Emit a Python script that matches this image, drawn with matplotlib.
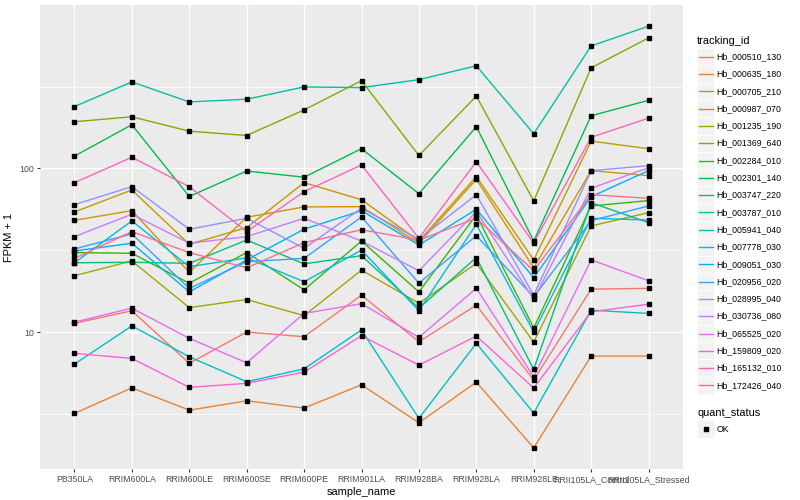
import matplotlib
matplotlib.use("Agg")
import matplotlib.pyplot as plt
from matplotlib.lines import Line2D
from matplotlib.patches import Rectangle
from matplotlib.ticker import FixedLocator, NullFormatter

plt.rcParams["font.family"] = ["Liberation Sans", "DejaVu Sans"]

samples = ["PB350LA", "RRIM600LA", "RRIM600LE", "RRIM600SE", "RRIM600PE",
           "RRIM901LA", "RRIM928BA", "RRIM928LA", "RRIM928LE",
           "RRII105LA_Control", "RRII105LA_Stressed"]

tracking_ids = ["Hb_000510_130", "Hb_000635_180", "Hb_000705_210", "Hb_000987_070",
                "Hb_001235_190", "Hb_001369_640", "Hb_002284_010", "Hb_002301_140",
                "Hb_003747_220", "Hb_003787_010", "Hb_005941_040", "Hb_007778_030",
                "Hb_009051_030", "Hb_020956_020", "Hb_028995_040", "Hb_030736_080",
                "Hb_065525_020", "Hb_159809_020", "Hb_165132_010", "Hb_172426_040"]

# ggplot default hue palette for 20 groups
colors = ["#F8766D", "#EA8331", "#D89000", "#C09B00", "#A3A500", "#7CAE00", "#39B600",
          "#00BB4E", "#00BF7D", "#00C1A3", "#00BFC4", "#00BAE0", "#00B0F6", "#35A2FF",
          "#9590FF", "#C77CFF", "#E76BF3", "#FA62DB", "#FF62BC", "#FF6C91"]

# FPKM + 1 per sample
hb_000510_130 = [11.3, 13.5, 6.44, 10.0, 9.36, 16.8, 8.72, 14.6, 5.09, 18.3, 18.5]
hb_000635_180 = [3.18, 4.56, 3.33, 3.80, 3.43, 4.76, 2.79, 4.94, 1.96, 7.13, 7.13]
hb_000705_210 = [48.2, 55.2, 23.2, 50.3, 58.2, 58.4, 34.9, 85.9, 24.7, 97.0, 90.4]
hb_000987_070 = [54.2, 73.9, 34.4, 43.5, 81.9, 64.4, 36.0, 89.1, 27.6, 147, 132]
hb_001235_190 = [22.1, 27.2, 14.1, 15.8, 12.6, 23.9, 15.0, 26.3, 8.68, 44.5, 53.7]
hb_001369_640 = [193, 207, 169, 159, 228, 344, 120, 277, 63.3, 412, 628]
hb_002284_010 = [30.6, 30.3, 19.9, 30.6, 18.1, 36.0, 17.6, 52.0, 10.6, 59.0, 63.6]
hb_002301_140 = [119, 185, 67.4, 96.5, 88.4, 132, 70.1, 180, 36.0, 210, 261]
hb_003747_220 = [26.5, 26.7, 26.3, 36.5, 26.1, 29.3, 14.0, 28.5, 5.91, 61.8, 46.6]
hb_003787_010 = [239, 338, 255, 265, 315, 312, 349, 424, 163, 561, 741]
hb_005941_040 = [6.37, 10.9, 7.06, 4.97, 5.96, 10.3, 2.97, 8.53, 3.20, 13.6, 13.0]
hb_007778_030 = [26.5, 47.8, 25.1, 28.4, 20.3, 31.7, 13.5, 45.6, 10.0, 49.6, 48.4]
hb_009051_030 = [31.3, 34.9, 17.6, 27.6, 42.5, 55.2, 34.0, 56.3, 21.5, 67.2, 97.0]
hb_020956_020 = [32.2, 39.8, 18.5, 26.9, 28.2, 50.5, 19.9, 38.8, 16.4, 48.0, 59.0]
hb_028995_040 = [60.1, 77.4, 42.5, 49.6, 32.5, 57.1, 36.9, 69.1, 16.8, 97.0, 104]
hb_030736_080 = [38.3, 52.5, 34.9, 38.3, 49.6, 36.0, 23.7, 54.4, 15.9, 75.7, 101]
hb_065525_020 = [11.5, 14.0, 9.15, 6.49, 13.0, 14.9, 9.28, 18.5, 5.33, 27.6, 20.6]
hb_159809_020 = [7.41, 6.90, 4.59, 4.86, 5.69, 9.49, 6.28, 9.45, 4.55, 13.3, 14.8]
hb_165132_010 = [81.9, 117, 77.4, 41.1, 72.1, 105, 37.4, 110, 35.0, 155, 203]
hb_172426_040 = [28.2, 41.1, 30.6, 24.7, 35.2, 42.2, 36.5, 49.6, 23.7, 69.1, 65.7]

series = [hb_000510_130, hb_000635_180, hb_000705_210, hb_000987_070, hb_001235_190,
          hb_001369_640, hb_002284_010, hb_002301_140, hb_003747_220, hb_003787_010,
          hb_005941_040, hb_007778_030, hb_009051_030, hb_020956_020, hb_028995_040,
          hb_030736_080, hb_065525_020, hb_159809_020, hb_165132_010, hb_172426_040]

W, H = 800, 500
fig = plt.figure(figsize=(8, 5), dpi=100)
ax = fig.add_axes([40 / W, 31 / H, 643 / W, 464 / H])
ax.set_facecolor("#EBEBEB")

x = list(range(len(samples)))
for vals, col in zip(series, colors):
    ax.plot(x, vals, color=col, lw=1.0, zorder=3)
for vals in series:
    ax.plot(x, vals, ls="none", marker="s", ms=2.2, color="black", zorder=4)

ax.set_yscale("log")
ax.set_xlim(-0.6, len(samples) - 0.4)
ax.set_ylim(1.455, 998)

ax.yaxis.set_major_locator(FixedLocator([10, 100]))
ax.set_yticklabels(["10", "100"])
ax.yaxis.set_minor_locator(FixedLocator([3.162, 31.62, 316.2]))
ax.yaxis.set_minor_formatter(NullFormatter())
ax.set_xticks(x)
ax.set_xticklabels(samples)

ax.grid(which="major", color="white", lw=1.0, zorder=0)
ax.grid(which="minor", axis="y", color="white", lw=0.5, zorder=0)
ax.set_axisbelow(True)
for s in ax.spines.values():
    s.set_visible(False)
ax.tick_params(which="major", length=2.2, width=0.8, color="#333333",
               labelsize=6.3, labelcolor="#4D4D4D", pad=2)
ax.tick_params(which="minor", length=0)

ax.set_xlabel("sample_name", fontsize=7.9, labelpad=2)
ax.set_ylabel("FPKM + 1", fontsize=7.9, labelpad=4)


def fx(px):
    return px / W


def fy(py):
    return 1 - py / H


# legend: tracking_id
fig.text(fx(697), fy(40.5), "tracking_id", fontsize=7.9, va="center", ha="left")
key = 17.3
for i, (tid, col) in enumerate(zip(tracking_ids, colors)):
    yc = 56.7 + i * key
    fig.add_artist(Rectangle((fx(697), fy(yc + key / 2)), key / W, key / H,
                             transform=fig.transFigure, facecolor="#F2F2F2",
                             edgecolor="white", lw=0.6))
    fig.add_artist(Line2D([fx(699), fx(712.5)], [fy(yc), fy(yc)],
                          transform=fig.transFigure, color=col, lw=1.0))
    fig.text(fx(716.5), fy(yc), tid, fontsize=6.3, va="center", ha="left")

# legend: quant_status
fig.text(fx(697), fy(412.7), "quant_status", fontsize=7.9, va="center", ha="left")
yc = 429
fig.add_artist(Rectangle((fx(697), fy(yc + key / 2)), key / W, key / H,
                         transform=fig.transFigure, facecolor="#F2F2F2",
                         edgecolor="white", lw=0.6))
fig.add_artist(Line2D([fx(705.6)], [fy(yc)], transform=fig.transFigure,
                      ls="none", marker="s", ms=2.2, color="black"))
fig.text(fx(716.5), fy(yc), "OK", fontsize=6.3, va="center", ha="left")

fig.savefig("out.png", dpi=100)
